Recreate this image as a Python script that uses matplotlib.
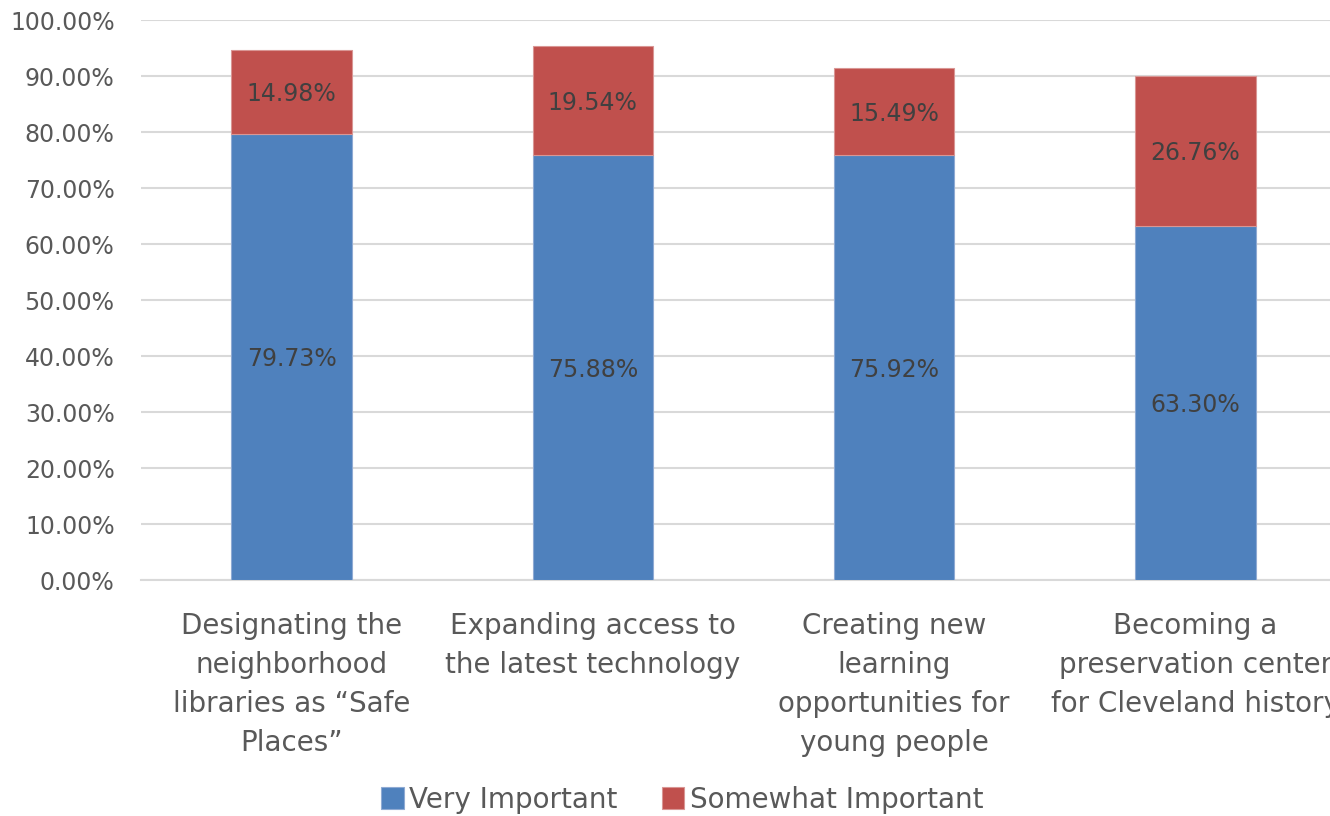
import numpy as np
import matplotlib.pyplot as plt
from matplotlib.ticker import PercentFormatter

# Survey responses per proposed library priority
categories = [
    "Designating the\nneighborhood\nlibraries as \u201cSafe\nPlaces\u201d",
    "Expanding access to\nthe latest technology",
    "Creating new\nlearning\nopportunities for\nyoung people",
    "Becoming a\npreservation center\nfor Cleveland history",
]
very_important = [79.73, 75.88, 75.92, 63.30]
somewhat_important = [14.98, 19.54, 15.49, 26.76]

blue = "#4F81BD"
red = "#C0504D"
grey_text = "#595959"
label_text = "#404040"

plt.rcParams['font.family'] = ['DejaVu Sans']

fig = plt.figure(figsize=(13.3, 8.16), dpi=100)
ax = fig.add_axes([0.106, 0.289, 0.906, 0.686])

x = np.arange(len(categories))
width = 0.4
b1 = ax.bar(x, very_important, width, color=blue, edgecolor="#8FAAD3",
            linewidth=0.8, label="Very Important", zorder=3)
b2 = ax.bar(x, somewhat_important, width, bottom=very_important, color=red,
            edgecolor="#D99694", linewidth=0.8, label="Somewhat Important", zorder=3)

# value labels in the middle of each segment
for i in range(len(categories)):
    ax.text(x[i], very_important[i] / 2 - 0.4, f"{very_important[i]:.2f}%",
            ha="center", va="center", fontsize=17, color=label_text, zorder=4)
    ax.text(x[i], very_important[i] + somewhat_important[i] / 2 - 0.4,
            f"{somewhat_important[i]:.2f}%", ha="center", va="center",
            fontsize=17, color=label_text, zorder=4)

ax.set_xlim(-0.5, len(categories) - 0.5)
ax.set_ylim(0, 100)
ax.set_yticks(np.arange(0, 101, 10))
ax.yaxis.set_major_formatter(PercentFormatter(decimals=2))
ax.grid(axis="y", color="#D9D9D9", linewidth=1.5, zorder=0)

ax.set_xticks(x)
ax.set_xticklabels(categories, fontsize=20, color=grey_text, linespacing=1.5)
ax.tick_params(axis="x", length=0, pad=23)
ax.tick_params(axis="y", length=0, labelsize=17, labelcolor=grey_text, pad=19)

for side in ["top", "right", "left"]:
    ax.spines[side].set_visible(False)
ax.spines["bottom"].set_color("#D9D9D9")
ax.spines["bottom"].set_linewidth(1.5)

leg = fig.legend(handles=[b1, b2], loc="center", bbox_to_anchor=(0.513, 0.02),
                 ncol=2, frameon=False, fontsize=20, handlelength=0.8,
                 handleheight=0.8, handletextpad=0.2, columnspacing=1.6)
for t in leg.get_texts():
    t.set_color(grey_text)

fig.savefig("out.png", dpi=100)
